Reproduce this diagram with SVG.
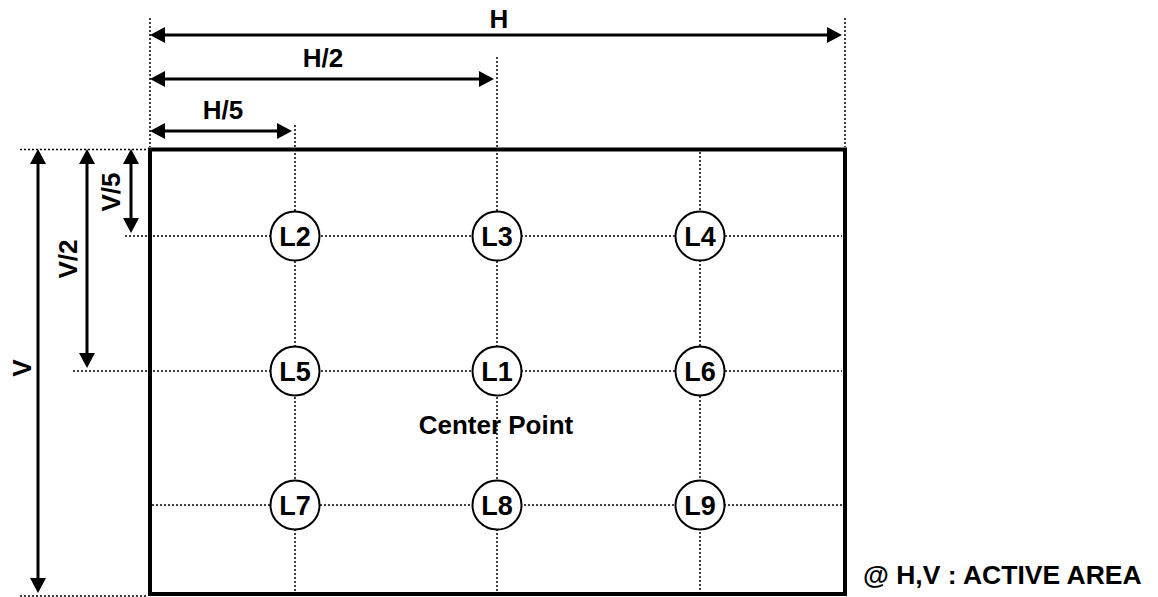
<svg xmlns="http://www.w3.org/2000/svg" width="1158" height="597" viewBox="0 0 1158 597">
<style>
.dot{stroke:#000;stroke-width:1.5;stroke-dasharray:2 2;fill:none}
.arr{stroke:#000;stroke-width:3;fill:none;marker-start:url(#ah);marker-end:url(#ah)}
.lbl{font-family:"Liberation Sans",Arial,sans-serif;font-weight:bold;font-size:26px;fill:#000}
.nd circle{fill:#fff;stroke:#000;stroke-width:2}
.nd text{font-family:"Liberation Sans",Arial,sans-serif;font-weight:bold;font-size:27px;fill:#000;text-anchor:middle}
</style>
<defs>
<marker id="ah" viewBox="0 0 15 16" markerWidth="15" markerHeight="16" refX="2" refY="8" orient="auto-start-reverse" markerUnits="userSpaceOnUse">
<path d="M0,0 L15,8 L0,16 z" fill="#000"/>
</marker>
</defs>
<rect width="1158" height="597" fill="#fff"/>
<g id="guides">
<line class="dot" x1="150" y1="18" x2="150" y2="147"/>
<line class="dot" x1="845" y1="18" x2="845" y2="147"/>
<line class="dot" x1="20" y1="149.5" x2="148" y2="149.5"/>
<line class="dot" x1="20" y1="596" x2="148" y2="596"/>
<line class="dot" x1="295" y1="125" x2="295" y2="592"/>
<line class="dot" x1="497" y1="57" x2="497" y2="592"/>
<line class="dot" x1="700" y1="152" x2="700" y2="592"/>
<line class="dot" x1="125" y1="236" x2="842" y2="236"/>
<line class="dot" x1="73" y1="371" x2="842" y2="371"/>
<line class="dot" x1="152" y1="505" x2="842" y2="505"/>
</g>
<g id="area">
<rect x="150" y="149.5" width="695" height="444.5" fill="none" stroke="#000" stroke-width="4"/>
</g>
<g id="connectors">
<line class="arr" x1="163" y1="35" x2="829" y2="35"/>
<line class="arr" x1="163" y1="79" x2="481" y2="79"/>
<line class="arr" x1="163" y1="131" x2="279" y2="131"/>
<line class="arr" x1="38" y1="162" x2="38" y2="580"/>
<line class="arr" x1="87" y1="162" x2="87" y2="355"/>
<line class="arr" x1="131" y1="162" x2="131" y2="220"/>
</g>
<g id="labels">
<text class="lbl" x="499" y="28" text-anchor="middle">H</text>
<text class="lbl" x="323" y="67" text-anchor="middle">H/2</text>
<text class="lbl" x="223" y="119" text-anchor="middle">H/5</text>
<text class="lbl" transform="translate(120,192) rotate(-90)" text-anchor="middle">V/5</text>
<text class="lbl" transform="translate(77,259) rotate(-90)" text-anchor="middle">V/2</text>
<text class="lbl" transform="translate(31,368) rotate(-90)" text-anchor="middle">V</text>
<text class="lbl" x="496" y="434" text-anchor="middle">Center Point</text>
<text class="lbl" x="863" y="584" style="font-size:26.5px">@ H,V : ACTIVE AREA</text>
</g>
<g id="L2" class="nd"><circle cx="295" cy="236" r="24.5"/><text x="295" y="245.5">L2</text></g>
<g id="L3" class="nd"><circle cx="497" cy="236" r="24.5"/><text x="497" y="245.5">L3</text></g>
<g id="L4" class="nd"><circle cx="700" cy="236" r="24.5"/><text x="700" y="245.5">L4</text></g>
<g id="L5" class="nd"><circle cx="295" cy="371" r="24.5"/><text x="295" y="380.5">L5</text></g>
<g id="L1" class="nd"><circle cx="497" cy="371" r="24.5"/><text x="497" y="380.5">L1</text></g>
<g id="L6" class="nd"><circle cx="700" cy="371" r="24.5"/><text x="700" y="380.5">L6</text></g>
<g id="L7" class="nd"><circle cx="295" cy="505" r="24.5"/><text x="295" y="514.5">L7</text></g>
<g id="L8" class="nd"><circle cx="497" cy="505" r="24.5"/><text x="497" y="514.5">L8</text></g>
<g id="L9" class="nd"><circle cx="700" cy="505" r="24.5"/><text x="700" y="514.5">L9</text></g>
</svg>
